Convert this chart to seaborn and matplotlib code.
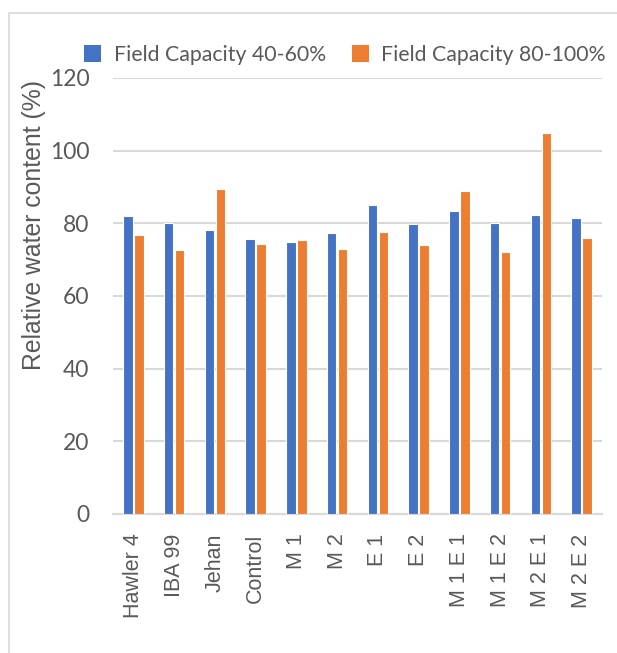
import matplotlib
matplotlib.use("Agg")
import matplotlib.pyplot as plt
from matplotlib.patches import Rectangle, Patch
import seaborn as sns
import pandas as pd

treatments = ["Hawler 4", "IBA 99", "Jehan", "Control", "M 1", "M 2",
              "E 1", "E 2", "M 1 E 1", "M 1 E 2", "M 2 E 1", "M 2 E 2"]
fc_40_60 = [82.1, 80.1, 78.1, 75.7, 74.8, 77.3, 85.0, 79.9, 83.5, 80.2, 82.3, 81.5]
fc_80_100 = [76.7, 72.6, 89.4, 74.3, 75.4, 72.8, 77.7, 73.9, 88.8, 72.1, 105.0, 75.9]
series_names = ["Field Capacity 40-60%", "Field Capacity 80-100%"]
y_ticks = [0, 20, 40, 60, 80, 100, 120]

df = pd.DataFrame({
    "Treatment": treatments * 2,
    "RWC": fc_40_60 + fc_80_100,
    "Condition": [series_names[0]] * len(treatments) + [series_names[1]] * len(treatments),
})

BLUE = "#4472C4"
ORANGE = "#ED7D31"
GRID = "#D9D9D9"
TEXT = "#595959"

sns.set_theme(style="white")
plt.rcParams["font.family"] = ["Lato", "DejaVu Sans"]

W, H = 617, 653
fig = plt.figure(figsize=(W / 100, H / 100), dpi=100)
fig.patch.set_facecolor("white")

# chart frame
fig.patches.append(Rectangle((9 / W, -0.1), 1.2, 1 - 13 / H + 0.1,
                             transform=fig.transFigure, fill=False,
                             edgecolor=GRID, linewidth=1.2, zorder=0))

ax = fig.add_axes([113 / W, 1 - 514 / H, (602 - 113) / W, (514 - 78) / H])
sns.barplot(data=df, x="Treatment", y="RWC", hue="Condition",
            palette=[BLUE, ORANGE], saturation=1, width=0.54, gap=0.12,
            edgecolor="white", linewidth=0.8, ax=ax, legend=False, zorder=3)

ax.set_ylim(0, 120)
ax.set_yticks(y_ticks)
ax.set_xlim(-0.5, len(treatments) - 0.5)
ax.yaxis.grid(True, color=GRID, linewidth=1.5, zorder=0)
ax.set_axisbelow(True)
for s in ["top", "right", "left"]:
    ax.spines[s].set_visible(False)
ax.spines["bottom"].set_color(GRID)
ax.spines["bottom"].set_linewidth(1.5)
ax.tick_params(axis="both", length=0)
ax.tick_params(axis="y", pad=17, labelsize=16.5, labelcolor=TEXT)
ax.tick_params(axis="x", pad=14, labelsize=15.5, labelcolor=TEXT)
for lbl in ax.get_xticklabels():
    lbl.set_rotation(90)
    lbl.set_family(["Liberation Sans", "DejaVu Sans"])
ax.set_xlabel("")
ax.set_ylabel("Relative water content (%)", fontsize=17.8, color=TEXT,
              family=["Liberation Sans", "DejaVu Sans"])
ax.yaxis.set_label_coords(-67 / (602 - 113), (514 - 225) / (514 - 78))

handles = [Patch(facecolor=BLUE, edgecolor="none"), Patch(facecolor=ORANGE, edgecolor="none")]
fig.legend(handles, series_names, loc="center", bbox_to_anchor=(345 / W, 1 - 55 / H),
           ncol=2, frameon=False, fontsize=15.3, labelcolor=TEXT,
           handlelength=0.8, handleheight=0.8, handletextpad=0.6, columnspacing=1.2)

fig.savefig("out.png", dpi=100, facecolor="white")
